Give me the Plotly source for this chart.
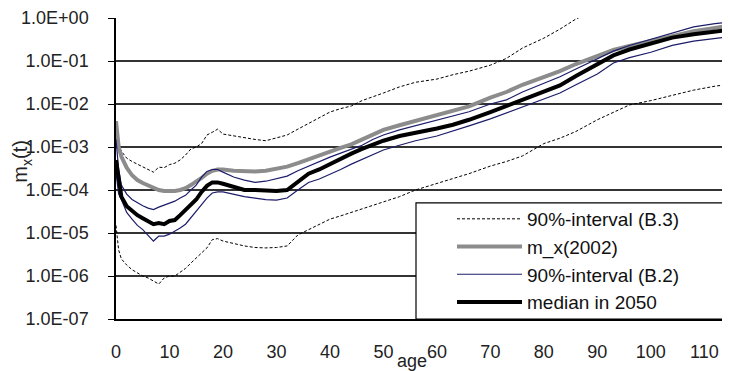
import plotly.graph_objects as go

ages = [0, 0.5, 1, 2, 3, 4, 5, 6, 7, 8, 9, 10, 11, 12, 13, 14, 15, 16, 17, 18, 19, 20,
        22, 24, 26, 28, 30, 32, 34, 36, 38, 40, 42, 44, 46, 48, 50, 53, 56, 60, 63, 66,
        70, 73, 76, 80, 83, 86, 90, 93, 96, 100, 104, 108, 112, 115]

mx_2002 = [4.0e-3, 1.0e-3, 6.0e-4, 3.3e-4, 2.2e-4, 1.7e-4, 1.45e-4, 1.3e-4, 1.15e-4, 1.0e-4,
           9.5e-5, 9.3e-5, 9.5e-5, 1.0e-4, 1.1e-4, 1.3e-4, 1.55e-4, 1.9e-4, 2.4e-4, 2.8e-4,
           3.0e-4, 3.0e-4, 2.8e-4, 2.7e-4, 2.7e-4, 2.8e-4, 3.1e-4, 3.5e-4, 4.2e-4, 5.2e-4,
           6.5e-4, 8.0e-4, 9.5e-4, 1.15e-3, 1.5e-3, 2.0e-3, 2.5e-3, 3.2e-3, 4.0e-3, 5.4e-3,
           6.8e-3, 8.8e-3, 1.4e-2, 1.9e-2, 2.8e-2, 4.2e-2, 5.8e-2, 8.5e-2, 1.3e-1, 1.8e-1,
           2.25e-1, 2.9e-1, 3.9e-1, 4.9e-1, 5.9e-1, 6.8e-1]

median_2050 = [5.0e-4, 1.5e-4, 7.0e-5, 4.2e-5, 3.2e-5, 2.6e-5, 2.2e-5, 1.9e-5, 1.6e-5, 1.7e-5,
               1.6e-5, 1.9e-5, 2.0e-5, 2.6e-5, 3.4e-5, 4.3e-5, 6.0e-5, 9.0e-5, 1.25e-4, 1.5e-4,
               1.5e-4, 1.4e-4, 1.2e-4, 1.0e-4, 1.0e-4, 9.5e-5, 9.5e-5, 1.0e-4, 1.6e-4, 2.4e-4,
               3.0e-4, 4.0e-4, 5.5e-4, 7.0e-4, 9.0e-4, 1.15e-3, 1.4e-3, 1.8e-3, 2.1e-3, 2.7e-3,
               3.3e-3, 4.3e-3, 6.5e-3, 9.0e-3, 1.25e-2, 1.9e-2, 2.7e-2, 4.5e-2, 8.5e-2, 1.35e-1,
               1.85e-1, 2.6e-1, 3.5e-1, 4.2e-1, 4.9e-1, 5.4e-1]

b2_upper = [1.5e-3, 3.0e-4, 1.3e-4, 8.0e-5, 6.0e-5, 5.0e-5, 4.3e-5, 3.8e-5, 3.5e-5, 4.0e-5,
            4.5e-5, 5.0e-5, 5.5e-5, 6.5e-5, 7.5e-5, 1.0e-4, 1.3e-4, 2.0e-4, 2.7e-4, 3.0e-4,
            3.0e-4, 2.6e-4, 2.0e-4, 1.7e-4, 1.5e-4, 1.6e-4, 1.8e-4, 2.1e-4, 2.8e-4, 3.6e-4,
            4.6e-4, 5.8e-4, 7.2e-4, 8.8e-4, 1.1e-3, 1.5e-3, 1.9e-3, 2.5e-3, 3.1e-3, 4.2e-3,
            5.2e-3, 6.6e-3, 1.0e-2, 1.25e-2, 1.9e-2, 3.0e-2, 4.3e-2, 6.5e-2, 1.15e-1, 1.7e-1,
            2.3e-1, 3.2e-1, 4.5e-1, 6.2e-1, 7.4e-1, 8.1e-1]

b2_lower = [2.5e-4, 8.0e-5, 6.0e-5, 3.0e-5, 2.1e-5, 1.5e-5, 1.2e-5, 9.0e-6, 6.5e-6, 8.5e-6,
            8.5e-6, 9.4e-6, 1.1e-5, 1.3e-5, 1.6e-5, 2.3e-5, 3.2e-5, 4.8e-5, 6.5e-5, 8.5e-5,
            9.0e-5, 9.0e-5, 7.8e-5, 7.0e-5, 6.5e-5, 6.0e-5, 5.8e-5, 6.5e-5, 1.0e-4, 1.5e-4,
            1.8e-4, 2.3e-4, 3.0e-4, 4.0e-4, 5.2e-4, 6.8e-4, 8.5e-4, 1.1e-3, 1.4e-3, 1.8e-3,
            2.4e-3, 3.1e-3, 4.5e-3, 6.2e-3, 8.5e-3, 1.3e-2, 1.8e-2, 2.8e-2, 5.0e-2, 9.0e-2,
            1.2e-1, 1.6e-1, 2.3e-1, 2.9e-1, 3.4e-1, 3.7e-1]

b3_upper = [2.0e-3, 1.1e-3, 8.0e-4, 5.5e-4, 4.6e-4, 4.0e-4, 3.5e-4, 3.0e-4, 2.6e-4, 3.4e-4,
            3.3e-4, 3.9e-4, 4.2e-4, 5.0e-4, 6.5e-4, 9.0e-4, 1.0e-3, 1.2e-3, 1.9e-3, 2.2e-3,
            2.6e-3, 2.0e-3, 1.8e-3, 1.6e-3, 1.5e-3, 1.4e-3, 1.6e-3, 1.9e-3, 2.6e-3, 3.5e-3,
            4.8e-3, 6.5e-3, 7.8e-3, 9.0e-3, 1.2e-2, 1.5e-2, 1.8e-2, 2.5e-2, 3.2e-2, 3.8e-2,
            4.8e-2, 5.8e-2, 8.0e-2, 1.15e-1, 2.0e-1, 3.4e-1, 5.5e-1, 9.5e-1, 1.6, None,
            None, None, None, None, None, None]

b3_lower = [1.5e-5, 4.0e-6, 2.5e-6, 1.8e-6, 1.4e-6, 1.2e-6, 1.0e-6, 9.0e-7, 7.5e-7, 6.5e-7,
            9.0e-7, 1.0e-6, 1.0e-6, 1.2e-6, 1.5e-6, 2.0e-6, 2.6e-6, 3.5e-6, 4.5e-6, 7.0e-6,
            7.4e-6, 6.5e-6, 5.6e-6, 5.0e-6, 4.6e-6, 4.5e-6, 4.6e-6, 5.0e-6, 9.0e-6, 1.2e-5,
            1.6e-5, 2.1e-5, 2.5e-5, 3.0e-5, 3.6e-5, 4.4e-5, 5.2e-5, 7.0e-5, 1.0e-4, 1.4e-4,
            1.8e-4, 2.4e-4, 3.6e-4, 4.6e-4, 6.2e-4, 1.2e-3, 1.6e-3, 2.3e-3, 4.3e-3, 6.5e-3,
            9.5e-3, 1.2e-2, 1.6e-2, 2.1e-2, 2.6e-2, 2.9e-2]

x_ticks = [0, 10, 20, 30, 40, 50, 60, 70, 80, 90, 100, 110]
y_tickvals = [1e0, 1e-1, 1e-2, 1e-3, 1e-4, 1e-5, 1e-6, 1e-7]
y_ticktext = ["1.0E+00", "1.0E-01", "1.0E-02", "1.0E-03", "1.0E-04", "1.0E-05", "1.0E-06", "1.0E-07"]

FONT = "Liberation Sans, Arial, sans-serif"
NAVY = "#1c1c6a"

fig = go.Figure()
fig.add_trace(go.Scatter(x=ages, y=b3_upper, mode="lines", name="90%-interval (B.3)",
                         legendgroup="b3", line=dict(color="black", width=1, dash="3px,2px")))
fig.add_trace(go.Scatter(x=ages, y=b3_lower, mode="lines", name="90%-interval (B.3)",
                         legendgroup="b3", showlegend=False,
                         line=dict(color="black", width=1, dash="3px,2px")))
fig.add_trace(go.Scatter(x=ages, y=mx_2002, mode="lines", name="m_x(2002)",
                         legendgroup="mx", line=dict(color="#8c8c8c", width=4)))
fig.add_trace(go.Scatter(x=ages, y=b2_upper, mode="lines", name="90%-interval (B.2)",
                         legendgroup="b2", line=dict(color=NAVY, width=1.2)))
fig.add_trace(go.Scatter(x=ages, y=b2_lower, mode="lines", name="90%-interval (B.2)",
                         legendgroup="b2", showlegend=False, line=dict(color=NAVY, width=1.2)))
fig.add_trace(go.Scatter(x=ages, y=median_2050, mode="lines", name="median in 2050",
                         legendgroup="med", line=dict(color="black", width=4)))

# the page has an 8px body margin, so figure coordinates are screen coordinates minus 8
OFF = 8
W, H = 730 - OFF, 371 - OFF
L, T = 116 - OFF, 13 - OFF
PB = 319 - OFF            # plot bottom (figure px)
B = H - PB
R = 0
pw, ph = W - L - R, PB - T


def px_x(sx):
    return (sx - OFF - L) / pw


def px_y(sy):
    return (PB - (sy - OFF)) / ph


fig.update_layout(
    width=W, height=H,
    margin=dict(l=L, r=R, t=T, b=B),
    paper_bgcolor="white", plot_bgcolor="white",
    font=dict(family=FONT, size=18, color="#222"),
    showlegend=True,
    legend=dict(
        x=px_x(452), y=px_y(198), xanchor="left", yanchor="top",
        bgcolor="rgba(0,0,0,0)", borderwidth=0,
        font=dict(family=FONT, size=19, color="#111"),
        itemwidth=65, tracegroupgap=0,
    ),
    xaxis=dict(
        range=[0, 114.8], tickvals=x_ticks, ticktext=[str(v) for v in x_ticks],
        showgrid=False, zeroline=False, showline=True, linecolor="black", linewidth=1.5,
        ticks="", ticklabelstandoff=16, tickfont=dict(size=18), ticklabeloverflow="allow",
    ),
    yaxis=dict(
        type="log", range=[-7, 0], tickvals=y_tickvals, ticktext=y_ticktext,
        showgrid=True, gridcolor="#333", gridwidth=1.5, zeroline=False,
        showline=True, linecolor="black", linewidth=1.5,
        ticks="outside", ticklen=6, tickcolor="black", ticklabelstandoff=16,
        tickfont=dict(size=18), ticklabeloverflow="allow",
    ),
    shapes=[dict(type="rect", xref="paper", yref="paper",
                 x0=px_x(416), x1=1.02, y0=0, y1=px_y(201),
                 line=dict(color="black", width=1.2), fillcolor="white", layer="above")],
    annotations=[
        dict(text="age", xref="paper", yref="paper", x=px_x(412), y=px_y(362),
             xanchor="center", yanchor="middle", showarrow=False, font=dict(size=18)),
        dict(text="m<sub>x</sub>(t)", xref="paper", yref="paper", x=px_x(22), y=px_y(158),
             xanchor="center", yanchor="middle", showarrow=False, textangle=-90, font=dict(size=20)),
    ],
)

fig.write_html("out.html")
